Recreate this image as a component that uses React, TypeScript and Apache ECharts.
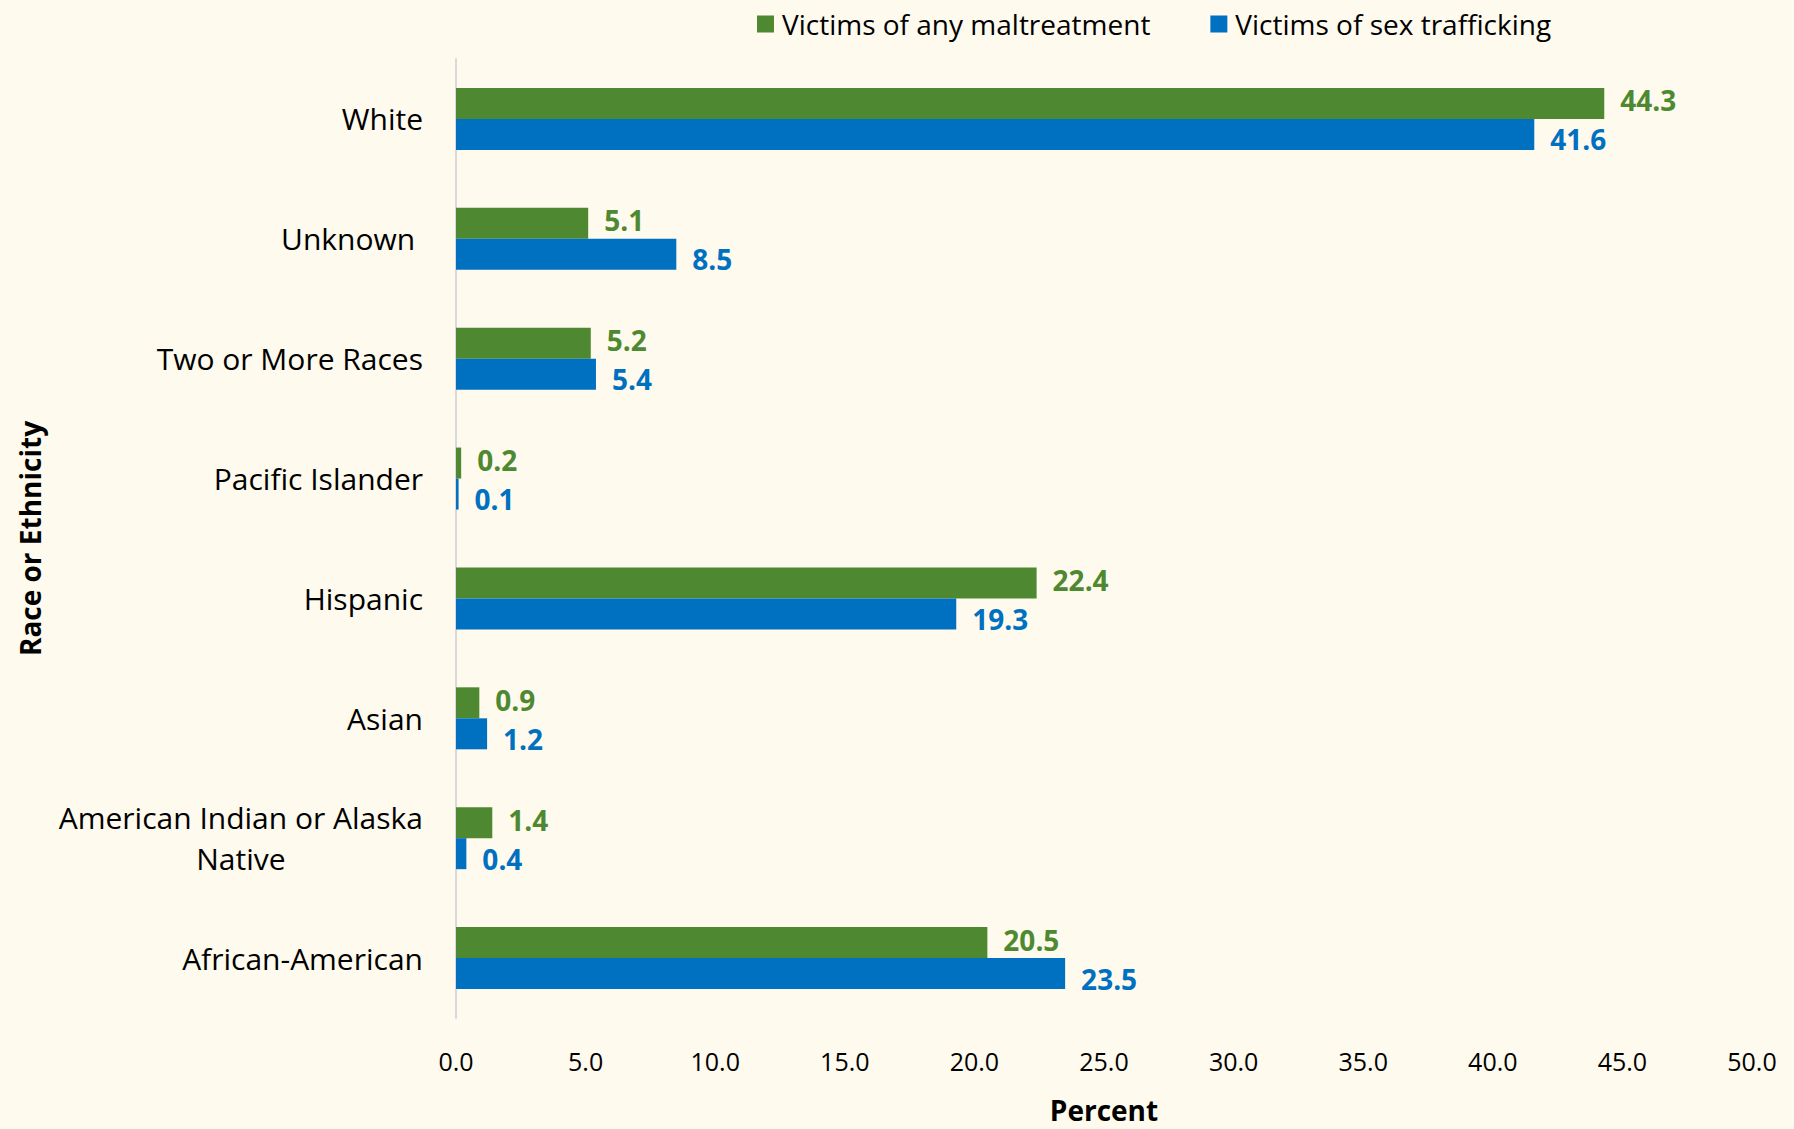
import React, { useEffect, useRef } from "react";
import * as echarts from "echarts";

const categories = [
  "African-American",
  "American Indian or Alaska\nNative",
  "Asian",
  "Hispanic",
  "Pacific Islander",
  "Two or More Races",
  "Unknown ",
  "White",
];
const maltreatment = [20.5, 1.4, 0.9, 22.4, 0.2, 5.2, 5.1, 44.3];
const trafficking = [23.5, 0.4, 1.2, 19.3, 0.1, 5.4, 8.5, 41.6];
const seriesNames = ["Victims of any maltreatment", "Victims of sex trafficking"];

const GREEN = "#4E8931";
const BLUE = "#0070C0";
const FONT = "Open Sans";

export default function App() {
  const ref = useRef<HTMLDivElement>(null);
  useEffect(() => {
    if (!ref.current) return;
    const chart = echarts.init(ref.current, undefined, { renderer: "svg" });
    const labelFmt = (p: any) => p.value.toFixed(1);
    chart.setOption({
      animation: false,
      backgroundColor: "#FEFAEE",
      textStyle: { fontFamily: FONT },
      legend: {
        top: 5,
        left: 752,
        itemWidth: 17,
        itemHeight: 17,
        itemGap: 60,
        icon: "rect",
        textStyle: { fontSize: 28, color: "#000", fontFamily: FONT, padding: [0, 0, 0, 3] },
        data: seriesNames,
      },
      grid: { left: 456, right: 42, top: 59, bottom: 106 },
      xAxis: {
        type: "value",
        min: 0,
        max: 50,
        interval: 5,
        name: "Percent",
        nameLocation: "middle",
        nameGap: 78,
        nameTextStyle: { fontSize: 28, fontWeight: "bold", color: "#000", fontFamily: FONT },
        axisLine: { show: false },
        axisTick: { show: false },
        splitLine: { show: false },
        axisLabel: {
          fontSize: 25,
          color: "#000",
          margin: 30,
          fontFamily: FONT,
          formatter: (v: number) => v.toFixed(1),
        },
      },
      yAxis: {
        type: "category",
        data: categories,
        name: "Race or Ethnicity",
        nameLocation: "middle",
        nameGap: 412,
        nameRotate: 90,
        nameTextStyle: { fontSize: 28, fontWeight: "bold", color: "#000", fontFamily: FONT },
        axisLine: { show: true, lineStyle: { color: "#D9D9D9", width: 2 } },
        axisTick: { show: false },
        axisLabel: {
          fontSize: 30,
          color: "#000",
          margin: 33,
          lineHeight: 41,
          fontFamily: FONT,
          formatter: (v: string) => {
            const parts = v.split("\n");
            if (parts.length === 1) return v;
            return parts.map((p, i) => (i === 0 ? `{a|${p}}` : `{c|${p}}`)).join("\n");
          },
          rich: {
            a: { fontSize: 30, color: "#000", fontFamily: FONT, lineHeight: 41 },
            c: { fontSize: 30, color: "#000", fontFamily: FONT, lineHeight: 41, align: "center" },
          },
        },
      },
      series: [
        {
          name: seriesNames[0],
          type: "bar",
          data: maltreatment,
          barWidth: 31,
          barGap: "0%",
          itemStyle: { color: GREEN },
          label: {
            show: true,
            position: "right",
            distance: 16,
            offset: [0, -3],
            color: GREEN,
            fontWeight: "bold",
            fontSize: 28,
            lineHeight: 28,
            fontFamily: FONT,
            formatter: labelFmt,
          },
        },
        {
          name: seriesNames[1],
          type: "bar",
          data: trafficking,
          barWidth: 31,
          barGap: "0%",
          itemStyle: { color: BLUE },
          label: {
            show: true,
            position: "right",
            distance: 16,
            offset: [0, 5],
            color: BLUE,
            fontWeight: "bold",
            fontSize: 28,
            lineHeight: 28,
            fontFamily: FONT,
            formatter: labelFmt,
          },
        },
      ],
    });
    return () => chart.dispose();
  }, []);
  return <div ref={ref} style={{ width: 1794, height: 1129, position: "absolute", left: 0, top: 0 }} />;
}
